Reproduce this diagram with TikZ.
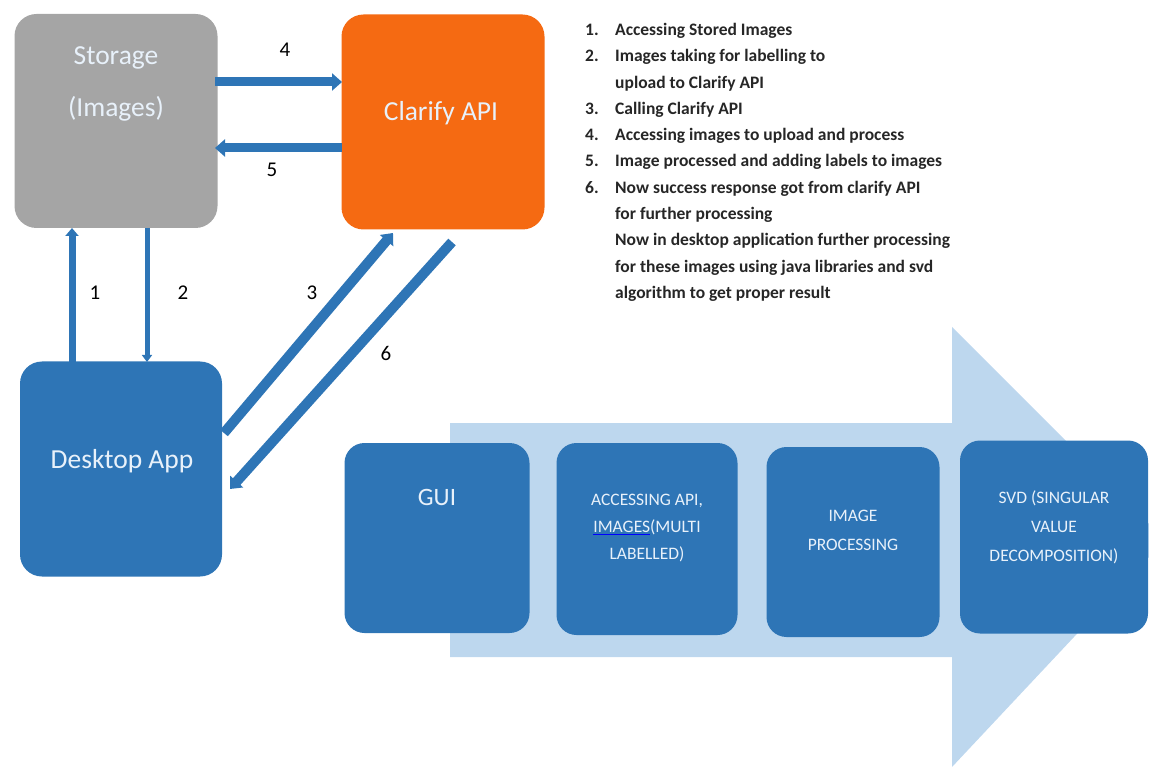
\documentclass[tikz,border=0pt]{standalone}
\usepackage{fontspec}
\setmainfont{Carlito}
\usetikzlibrary{arrows.meta}
\definecolor{appblue}{HTML}{2E75B6}
\definecolor{stgray}{HTML}{A5A5A5}
\definecolor{apiorange}{HTML}{F56A12}
\definecolor{paleblue}{HTML}{BDD7EE}
\definecolor{boxtext}{HTML}{E8F1FA}
\tikzset{
  bigbox/.style={rectangle, rounded corners=22pt, inner sep=0pt},
  stagebox/.style={rectangle, rounded corners=20pt, inner sep=0pt, fill=appblue},
  bigtext/.style={text=boxtext, font=\fontsize{27.5}{30}\selectfont},
  stagetext/.style={text=boxtext, align=center, font=\fontsize{17.5}{29}\selectfont},
  link/.style={draw=appblue, line width=9pt, -{Triangle[length=10pt, width=17pt]}},
  num/.style={font=\fontsize{21}{24}\selectfont}
}
\begin{document}
\begin{tikzpicture}[x=1pt, y=-1pt]
\useasboundingbox (0,0) rectangle (1149,767);
\clip (0,0) rectangle (1149,767);

% big pale arrow behind the stages
\fill[paleblue] (450,423) -- (952,423) -- (952,327) -- (1165,540)
  -- (952,767) -- (952,657) -- (450,657) -- cycle;

\node (storage) [bigbox, fill=stgray, minimum width=203pt, minimum height=214pt] at (116,121) {};
\node (api) [bigbox, fill=apiorange, minimum width=203pt, minimum height=215pt] at (443,122) {};
\node (desktop) [bigbox, fill=appblue, minimum width=202pt, minimum height=215pt] at (121,469) {};

\node (storagetxt) [bigtext, align=center, font=\fontsize{27.5}{52}\selectfont] at (116,84) {Storage\\(Images)};
\node (apitxt) [bigtext] at (441,113) {Clarify API};
\node (desktoptxt) [bigtext] at (122,461) {Desktop App};

\node (gui) [stagebox, minimum width=185pt, minimum height=190pt] at (437,538) {};
\node (access) [stagebox, minimum width=181pt, minimum height=192pt] at (647,539) {};
\node (imgproc) [stagebox, minimum width=173pt, minimum height=190pt] at (853,542) {};
\node (svd) [stagebox, minimum width=188pt, minimum height=193pt] at (1054,537) {};

\node (guitxt) [stagetext, font=\fontsize{25}{28}\selectfont] at (437,497) {GUI};
\node (accesstxt) [stagetext, font=\fontsize{17.5}{27}\selectfont] at (647,528) {ACCESSING API,\\\textcolor{blue}{\underline{\textcolor{boxtext}{IMAGES}}}(MULTI\\LABELLED)};
\node (imgproctxt) [stagetext] at (853,530) {IMAGE\\PROCESSING};
\node (svdtxt) [stagetext] at (1054,527) {SVD (SINGULAR\\VALUE\\DECOMPOSITION)};

% connectors
\coordinate (s4) at (215,82);
\coordinate (a4) at (342,82);
\coordinate (a5) at (342,148);
\coordinate (s5) at (215,148);
\coordinate (d1) at (72,362);
\coordinate (s1) at (72,228);
\coordinate (s2) at (147,228);
\coordinate (d2) at (147,362);
\coordinate (d3) at (224,433);
\coordinate (a3) at (393,233);
\coordinate (a6) at (452,242);
\coordinate (d6) at (230,489);

\draw[link] (s4) -- (a4);
\draw[link] (a5) -- (s5);
\draw[link, line width=7pt, -{Triangle[length=8pt, width=13pt]}] (d1) -- (s1);
\draw[link, line width=5pt, -{Triangle[length=7pt, width=10pt]}] (s2) -- (d2);
\draw[link, line width=10pt] (d3) -- (a3);
\draw[link, line width=10pt] (a6) -- (d6);

\node (n4) [num] at (285,50) {4};
\node (n5) [num] at (272,170) {5};
\node (n1) [num] at (95,293) {1};
\node (n2) [num] at (183,293) {2};
\node (n3) [num] at (312,293) {3};
\node (n6) [num] at (386,353) {6};

% numbered notes
\node (notes) [anchor=north west, align=left, inner sep=0pt,
  font=\bfseries\fontsize{17.5}{26.3}\selectfont, text=black!85] at (585,23) {%
\makebox[30pt][l]{1.}Accessing Stored Images\\
\makebox[30pt][l]{2.}Images taking for labelling to\\
\makebox[30pt][l]{}upload to Clarify API\\
\makebox[30pt][l]{3.}Calling Clarify API\\
\makebox[30pt][l]{4.}Accessing images to upload and process\\
\makebox[30pt][l]{5.}Image processed and adding labels to images\\
\makebox[30pt][l]{6.}Now success response got from clarify API\\
\makebox[30pt][l]{}for further processing\\
\makebox[30pt][l]{}Now in desktop application further processing\\
\makebox[30pt][l]{}for these images using java libraries and svd\\
\makebox[30pt][l]{}algorithm to get proper result};
\end{tikzpicture}
\end{document}
